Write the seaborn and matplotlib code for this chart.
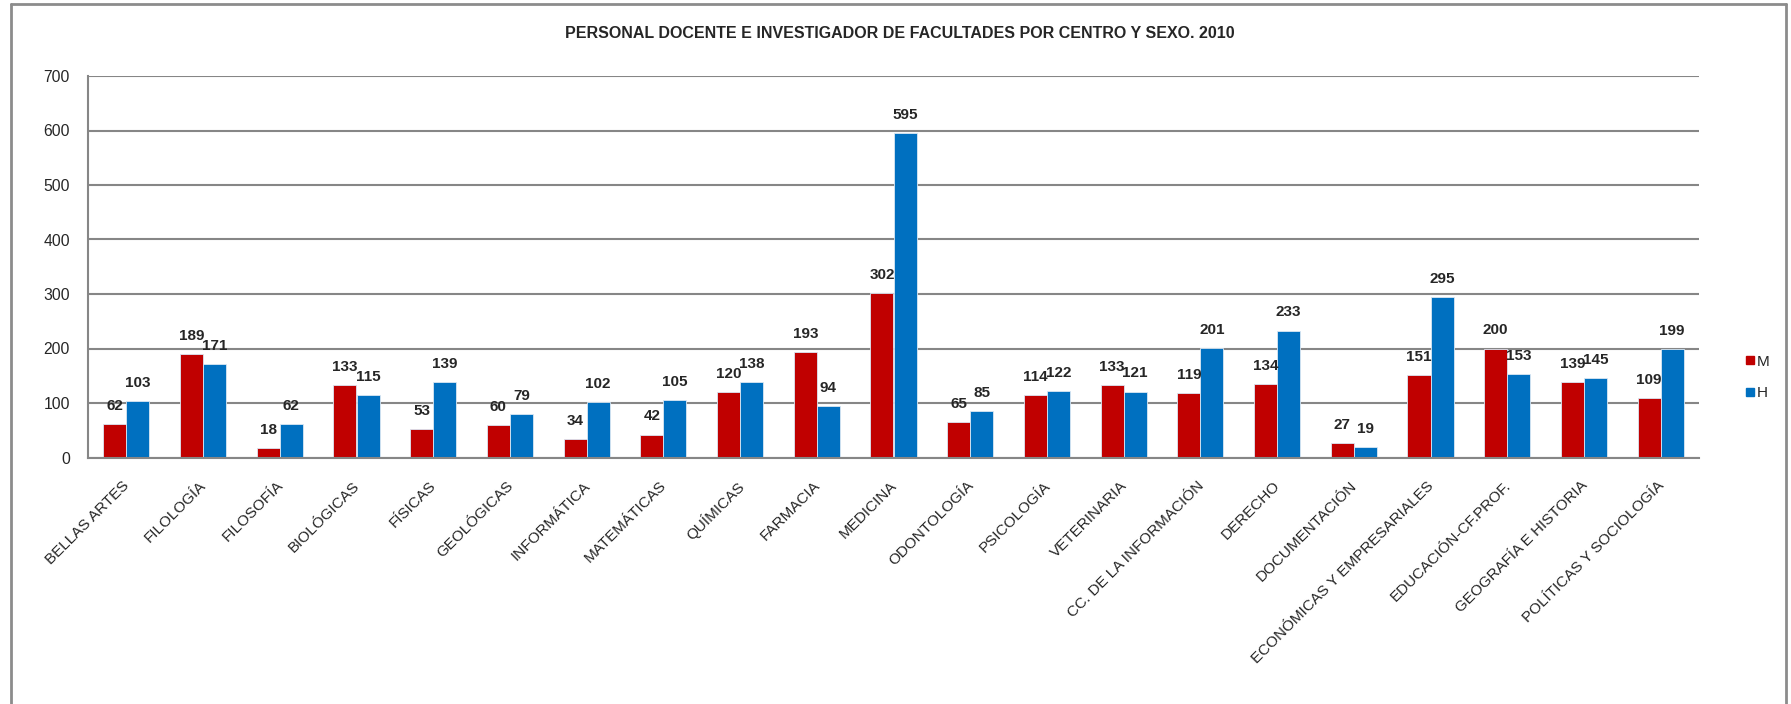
import matplotlib
matplotlib.use("Agg")
import matplotlib.pyplot as plt
import matplotlib.transforms as mtrans
import seaborn as sns
import pandas as pd
from matplotlib.lines import Line2D

categories = ["BELLAS ARTES", "FILOLOGÍA", "FILOSOFÍA", "BIOLÓGICAS", "FÍSICAS",
              "GEOLÓGICAS", "INFORMÁTICA", "MATEMÁTICAS", "QUÍMICAS", "FARMACIA",
              "MEDICINA", "ODONTOLOGÍA", "PSICOLOGÍA", "VETERINARIA",
              "CC. DE LA INFORMACIÓN", "DERECHO", "DOCUMENTACIÓN",
              "ECONÓMICAS Y EMPRESARIALES", "EDUCACIÓN-CF.PROF.",
              "GEOGRAFÍA E HISTORIA", "POLÍTICAS Y SOCIOLOGÍA"]
mujeres = [62, 189, 18, 133, 53, 60, 34, 42, 120, 193, 302, 65, 114, 133, 119, 134, 27, 151, 200, 139, 109]
hombres = [103, 171, 62, 115, 139, 79, 102, 105, 138, 94, 595, 85, 122, 121, 201, 233, 19, 295, 153, 145, 199]
series = ["M", "H"]
yticks = [0, 100, 200, 300, 400, 500, 600, 700]
title = "PERSONAL DOCENTE E INVESTIGADOR DE FACULTADES POR CENTRO Y SEXO. 2010"

df = pd.DataFrame({
    "centro": categories * 2,
    "sexo": [series[0]] * len(categories) + [series[1]] * len(categories),
    "valor": mujeres + hombres,
})

sns.set_theme(style="white")
plt.rcParams["font.family"] = ["Liberation Sans", "DejaVu Sans"]

W, H = 1791, 704
fig = plt.figure(figsize=(W / 100, H / 100), dpi=100)
ax = fig.add_axes([88 / W, 1 - 457.5 / H, (1699 - 88) / W, (457.5 - 76) / H])

palette = {"M": "#C00000", "H": "#0070C0"}
sns.barplot(data=df, x="centro", y="valor", hue="sexo", palette=palette,
            width=0.6, gap=0, ax=ax, legend=False, saturation=1,
            edgecolor="#dbe7f3", linewidth=0.6)

for cont in ax.containers:
    ax.bar_label(cont, fmt="%d", padding=8, fontsize=11, fontweight="bold")

ax.set_ylim(0, 700)
ax.set_yticks(yticks)
ax.set_xlim(-0.5, len(categories) - 0.5)
ax.set_xlabel("")
ax.set_ylabel("")
ax.grid(axis="y", color="#868686", linewidth=1.5)
ax.set_axisbelow(True)
for s in ["top", "right"]:
    ax.spines[s].set_visible(False)
for s in ["left", "bottom"]:
    ax.spines[s].set_color("#868686")
    ax.spines[s].set_linewidth(1.5)
ax.tick_params(axis="y", length=0, pad=13, labelsize=11.3)
ax.tick_params(axis="x", length=0, pad=0, labelsize=11)
ax.set_xticks(range(len(categories)))
ax.set_xticklabels(categories, rotation=45, ha="right", rotation_mode="anchor")
off = mtrans.ScaledTranslation(-4 / 100, -21 / 100, fig.dpi_scale_trans)
for lbl in ax.get_xticklabels():
    lbl.set_transform(lbl.get_transform() + off)

fig.text(900 / W, 1 - 34 / H, title, ha="center", va="center",
         fontsize=11.5, fontweight="bold")

handles = [Line2D([0], [0], marker="s", linestyle="none", markersize=6,
                  markerfacecolor=palette[s], markeredgecolor=palette[s]) for s in series]
fig.legend(handles, series, loc="center left",
           bbox_to_anchor=(1732 / W, 1 - 377.5 / H), frameon=False,
           handlelength=0.6, handletextpad=0.15, labelspacing=1.15, fontsize=11)

# outer frame
fc = "#8c8c8c"
fig.add_artist(Line2D([11 / W, 11 / W], [0, 1 - 4 / H], color=fc, lw=2, transform=fig.transFigure))
fig.add_artist(Line2D([11 / W, 1786 / W], [1 - 4 / H, 1 - 4 / H], color=fc, lw=2, transform=fig.transFigure))
fig.add_artist(Line2D([1786 / W, 1786 / W], [0, 1 - 4 / H], color=fc, lw=2, transform=fig.transFigure))

fig.savefig("out.png", dpi=100)
